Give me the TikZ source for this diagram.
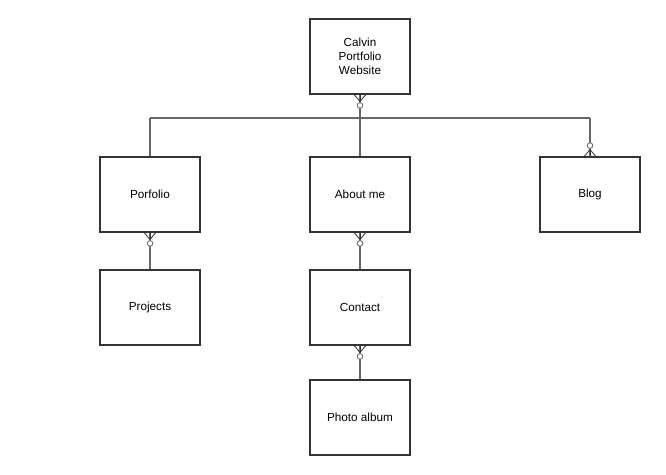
\documentclass[tikz,border=0pt]{standalone}
\usepackage{fontspec}
\setmainfont{Liberation Sans}
\tikzset{
  page/.style={x=0.03cm, y=-0.03cm},
  entity/.style={draw=black!80, line width=1.6pt, minimum width=3cm, minimum height=2.25cm,
    align=center, font=\fontsize{10}{12.2}\selectfont, inner sep=2pt},
  link/.style={draw=black!60, line width=1pt},
  zeromany/.pic={
    \draw[draw=black!80, line width=0.7pt] (-5.5,0) -- (0,6.5) -- (5.5,0);
    \draw[draw=black!80, line width=0.7pt] (0,0) -- (0,6.5);
    \draw[draw=black!60, line width=0.7pt, fill=white] (0,10.5) circle (2.8);
  }
}
\begin{document}
\begin{tikzpicture}[page]
  \useasboundingbox (0,0) rectangle (666,475);

  % boxes
  \node[entity] (site) at (360,56.5) {Calvin\\Portfolio\\Website};
  \node[entity] (porfolio) at (150,194.5) {Porfolio};
  \node[entity] (about) at (360,194.5) {About me};
  \node[entity] (blog) at (590,194.5) {Blog};
  \node[entity] (projects) at (150,307.5) {Projects};
  \node[entity] (contact) at (360,307.5) {Contact};
  \node[entity] (photos) at (360,417.5) {Photo album};

  % bus line
  \coordinate (bus) at (360,118);
  \coordinate (busL) at (150,118);
  \coordinate (busR) at (590,118);

  \draw[link] (busL) -- (busR);
  \draw[link] (site.south) -- (about.north);
  \draw[link] (busL) -- (porfolio.north);
  \draw[link] (busR) -- (blog.north);
  \draw[link] (porfolio.south) -- (projects.north);
  \draw[link] (about.south) -- (contact.north);
  \draw[link] (contact.south) -- (photos.north);

  % crow's feet
  \pic at (site.south) {zeromany};
  \pic at (porfolio.south) {zeromany};
  \pic at (about.south) {zeromany};
  \pic at (contact.south) {zeromany};
  \pic[rotate=180] at (blog.north) {zeromany};
\end{tikzpicture}
\end{document}
